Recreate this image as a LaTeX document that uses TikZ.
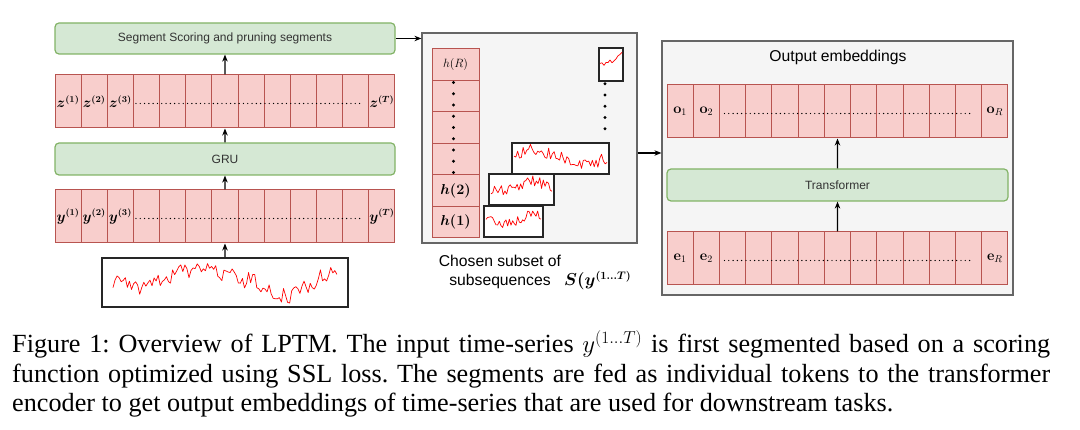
\documentclass[tikz,border=0pt]{standalone}
\usepackage{amssymb}
\usepackage{amsmath}
\usepackage[no-math]{fontspec}
\setmainfont{Liberation Serif}
\newfontfamily\drawfont{Liberation Sans}
\usepackage{tikz}
\usetikzlibrary{arrows.meta}

\definecolor{cellfill}{HTML}{F8CECC}
\definecolor{celldraw}{HTML}{B85450}
\definecolor{stagefill}{HTML}{D5E8D4}
\definecolor{stagedraw}{HTML}{82B366}
\definecolor{panelfill}{HTML}{F5F5F5}
\definecolor{paneldraw}{HTML}{666666}

\begin{document}
\frenchspacing
\begin{tikzpicture}[x=1pt, y=-1pt,
        cell/.style={draw=celldraw, fill=cellfill, line width=1pt, minimum width=26.15pt, minimum height=53pt, inner sep=0pt},
        stage/.style={draw=stagedraw, fill=stagefill, rounded corners=4pt, line width=1.2pt, minimum width=340pt, minimum height=31pt, font=\drawfont\fontsize{12}{14}\selectfont, text=black!80},
        panel/.style={draw=paneldraw, fill=panelfill, line width=1.2pt, inner sep=0pt},
        tsbox/.style={draw=black!85, fill=white, line width=1.6pt, inner sep=0pt},
        tsline/.style={red, line width=0.7pt, line join=round},
        arr/.style={-{Stealth[length=7pt, width=5.5pt]}, line width=1.3pt},
        rowdots/.style={line width=1.4pt, line cap=round, dash pattern=on 0pt off 4.3pt},
        coldots/.style={line width=3.2pt, line cap=round, dash pattern=on 0pt off 11.25pt},
        mathlbl/.style={font=\fontsize{13.5}{15}\selectfont, inner sep=0pt},
        sanslbl/.style={font=\drawfont\fontsize{15.7}{19}\selectfont, inner sep=0pt}]
        \useasboundingbox (0,0) rectangle (1080,430);

        % input side
        \node[stage] (seg) at (225,38.5) {Segment Scoring and pruning segments};
        \foreach \i in {1,...,13} \node[cell] (z\i) at ({55+26.15*(\i-0.5)},101.5) {};
        \node[stage, minimum height=32pt] (gru) at (225,159) {GRU};
        \foreach \i in {1,...,13} \node[cell] (y\i) at ({55+26.15*(\i-0.5)},216.5) {};
        \node[tsbox, minimum width=246pt, minimum height=49pt] (ts) at (225,282.5) {};

        \node[mathlbl] at (z1) {$\boldsymbol{z^{(1)}}$};
        \node[mathlbl] at (z2) {$\boldsymbol{z^{(2)}}$};
        \node[mathlbl] at (z3) {$\boldsymbol{z^{(3)}}$};
        \node[mathlbl] at (z13) {$\boldsymbol{z^{(T)}}$};
        \node[mathlbl] at (y1) {$\boldsymbol{y^{(1)}}$};
        \node[mathlbl] at (y2) {$\boldsymbol{y^{(2)}}$};
        \node[mathlbl] at (y3) {$\boldsymbol{y^{(3)}}$};
        \node[mathlbl] at (y13) {$\boldsymbol{y^{(T)}}$};
        \draw[rowdots] ([xshift=3pt,yshift=-2pt]z4.west) -- ([xshift=-8pt,yshift=-2pt]z12.east);
        \draw[rowdots] ([xshift=3pt,yshift=-2pt]y4.west) -- ([xshift=-8pt,yshift=-2pt]y12.east);

        \pgfmathsetseed{4}
        \draw[tsline] plot[domain=0:1, samples=110] ({113+224*\x}, {280 + 10*exp(0-((\x-0.13)/0.08)^2) - 13*exp(0-((\x-0.40)/0.12)^2) + 17*exp(0-((\x-0.77)/0.1)^2) - 6*exp(0-((\x-1)/0.1)^2) + 8.5*rand});

        % chosen subsequences
        \node[panel, minimum width=215pt, minimum height=210pt] (mid) at (529.5,138) {};
        \foreach \i in {1,...,6} \node[cell, minimum width=47pt, minimum height=31.5pt] (h\i) at (455.5,{238-31.5*(\i-0.5)}) {};
        \node[mathlbl] at (h1) {$\boldsymbol{h(1)}$};
        \node[mathlbl] at (h2) {$\boldsymbol{h(2)}$};
        \node[mathlbl, font=\fontsize{11.5}{14}\selectfont] at (h6) {$h(R)$};
        \draw[coldots] ([xshift=-2pt,yshift=-2.5pt]h5.north) -- ([xshift=-2pt,yshift=2pt]h3.south);

        \node[tsbox, minimum width=59pt, minimum height=31pt] (b1) at (513.5,221.5) {};
        \node[tsbox, minimum width=65pt, minimum height=31pt] (b2) at (521.5,189.5) {};
        \node[tsbox, minimum width=97pt, minimum height=31pt] (b3) at (560.5,158.5) {};
        \node[tsbox, minimum width=24pt, minimum height=33pt] (b4) at (611,64.5) {};
        \pgfmathsetseed{11}
        \draw[tsline] plot[domain=0:1, samples=34] ({486+55*\x}, {219 + 5*exp(0-((\x-0.4)/0.2)^2) - 7*exp(0-((\x-0.85)/0.12)^2) + 5.5*rand});
        \draw[tsline] plot[domain=0:1, samples=36] ({491+61*\x}, {190 - 9*exp(0-((\x-0.7)/0.2)^2) + 5.5*rand});
        \draw[tsline] plot[domain=0:1, samples=52] ({514+93*\x}, {158 - 8*exp(0-((\x-0.2)/0.2)^2) + 8*exp(0-((\x-0.78)/0.13)^2) + 6*rand});
        \draw[tsline] plot[domain=0:1, samples=12] ({600+22*\x}, {66 - 11*\x + 3*rand});
        \draw[coldots] ([xshift=-6pt,yshift=-2pt]b4.south) -- ([xshift=-6pt,yshift=4pt]b4.south |- b3.north);

        \node[sanslbl, anchor=base] (chosen) at (500,267) {Chosen subset of};
        \node[sanslbl, anchor=base] (subseq) at (500,286) {subsequences};
        \node[anchor=base west, inner sep=0pt, font=\fontsize{16}{19}\selectfont] (sofy) at (564,286) {$\boldsymbol{S(y^{(1\ldots T)}}$};

        % output side
        \node[panel, minimum width=351pt, minimum height=254pt] (out) at (837.5,168) {};
        \node[sanslbl, anchor=base] (outlbl) at (838,62) {Output embeddings};
        \foreach \i in {1,...,13} \node[cell, minimum width=26.23pt] (o\i) at ({667+26.23*(\i-0.5)},111.5) {};
        \node[stage, minimum width=341pt, minimum height=32pt] (trf) at (837.5,185) {Transformer};
        \foreach \i in {1,...,13} \node[cell, minimum width=26.23pt] (e\i) at ({667+26.23*(\i-0.5)},258.5) {};

        \node[mathlbl, font=\fontsize{14}{16}\selectfont] at (o1) {$\mathbf{o}_1$};
        \node[mathlbl, font=\fontsize{14}{16}\selectfont] at (o2) {$\mathbf{o}_2$};
        \node[mathlbl, font=\fontsize{14}{16}\selectfont] at (o13) {$\mathbf{o}_R$};
        \node[mathlbl, font=\fontsize{14}{16}\selectfont] at (e1) {$\mathbf{e}_1$};
        \node[mathlbl, font=\fontsize{14}{16}\selectfont] at (e2) {$\mathbf{e}_2$};
        \node[mathlbl, font=\fontsize{14}{16}\selectfont] at (e13) {$\mathbf{e}_R$};
        \draw[rowdots] ([xshift=5.5pt,yshift=-2pt]o3.west) -- ([xshift=-9pt,yshift=-2pt]o12.east);
        \draw[rowdots] ([xshift=5.5pt,yshift=-2pt]e3.west) -- ([xshift=-9pt,yshift=-2pt]e12.east);

        % connectors
        \draw[arr] (ts.north) -- (y7.south);
        \draw[arr] (y7.north) -- (gru.south);
        \draw[arr] (gru.north) -- (z7.south);
        \draw[arr] (z7.north) -- (seg.south);
        \draw[arr] (seg.east) -- (seg.east -| mid.west);
        \coordinate (link) at (650,153);
        \draw[arr] (link -| mid.east) -- (link -| out.west);
        \draw[arr] (e7.north) -- (trf.south);
        \draw[arr] (trf.north) -- (o7.south);

        % caption
        \node[anchor=base west, text width=1038pt, align=justify, inner sep=0pt, font=\fontsize{26.2}{29.5}\selectfont] (cap) at (12,352.7) {Figure 1: Overview of LPTM. The input time-series $y^{(1\ldots T)}$ is first segmented based on a scoring\linebreak function optimized using SSL loss. The segments are fed as individual tokens to the transformer\linebreak encoder to get output embeddings of time-series that are used for downstream tasks.};
\end{tikzpicture}
\end{document}
